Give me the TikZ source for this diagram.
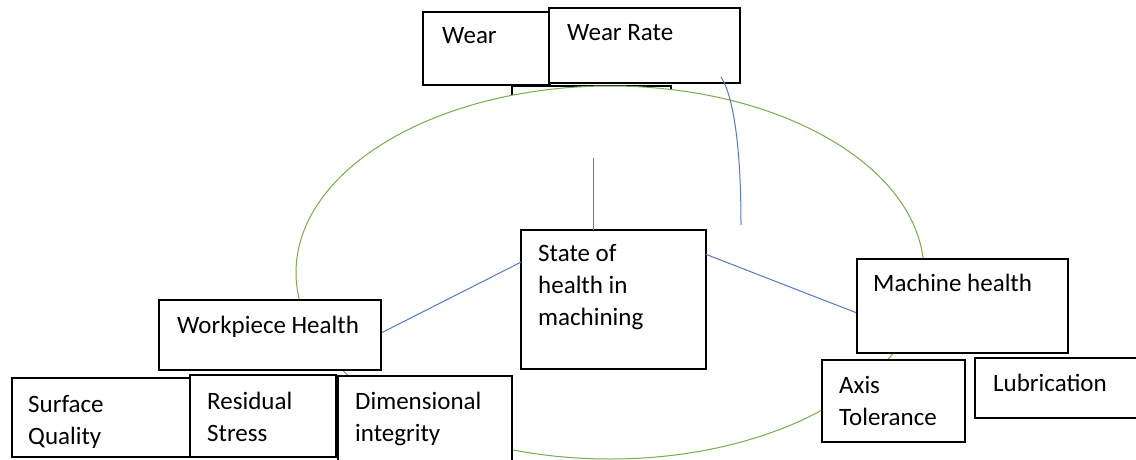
\documentclass[tikz,border=0pt]{standalone}
\usepackage{fontspec}
\setmainfont{Carlito}
\usetikzlibrary{positioning}
\usetikzlibrary{calc}

\definecolor{ringgreen}{RGB}{120,172,76}
\definecolor{linkblue}{RGB}{86,122,192}

\tikzset{
	box/.style={draw,fill=white,line width=1.1pt,anchor=north west,inner sep=0pt,outer sep=0pt},
	txt/.style={anchor=north west,inner sep=0pt,align=left,font=\fontsize{25}{32}\selectfont},
	link/.style={linkblue,line width=1pt}
}

\begin{document}
\begin{tikzpicture}[x=1pt,y=-1pt]
		% frame of the picture
		\clip (0,0) rectangle (1136,459);
		\fill[white] (0,0) rectangle (1136,459);

		% box hidden behind the ring
		\node[box,minimum width=159,minimum height=70] (hidden) at (512,86) {};

		% the ring
		\draw[ringgreen,line width=1pt,fill=white] (610,272.5) ellipse (314pt and 186.5pt);

		% free ends of the connectors
		\coordinate (vtop) at (593,158);
		\coordinate (cstart) at (721,77);
		\coordinate (cend) at (741,225);

		% centre
		\node[box,minimum width=185,minimum height=139] (state) at (521,230) {};
		\node[txt,below right=14pt and 17pt of state.north west] (state-t) {State of\\health in\\machining};

		% connectors from the centre
		\draw[link] (state.north -| vtop) -- (vtop);
		\draw[link] (state.158) -- (381,333) coordinate (wph-in);
		\draw[link] (state.26) -- (857,313) coordinate (mach-in);

		% top boxes
		\node[box,minimum width=127,minimum height=73] (wear) at (423,12) {};
		\node[txt,below right=15pt and 19pt of wear.north west] (wear-t) {Wear};
		\node[box,minimum width=191,minimum height=75] (wrate) at (549,8) {};
		\node[txt,below right=16pt and 18pt of wrate.north west] (wrate-t) {Wear Rate};
		\draw[link] (cstart) .. controls (734,97) and (741,150) .. (cend);

		% workpiece side
		\node[box,minimum width=222,minimum height=70] (wph) at (159,300) {};
		\node[txt,below right=16pt and 18pt of wph.north west] (wph-t) {Workpiece Health};
		\node[box,minimum width=190,minimum height=79] (surf) at (12,378) {};
		\node[txt,below right=17pt and 16pt of surf.north west] (surf-t) {Surface\\Quality};
		\node[box,minimum width=146,minimum height=82] (resid) at (190,375) {};
		\node[txt,below right=17pt and 17pt of resid.north west] (resid-t) {Residual\\Stress};
		\node[box,minimum width=174,minimum height=100] (dimen) at (338,376) {};
		\node[txt,below right=16pt and 17pt of dimen.north west] (dimen-t) {Dimensional\\integrity};

		% machine side
		\node[box,minimum width=211,minimum height=94] (mach) at (857,259) {};
		\node[txt,below right=15pt and 16pt of mach.north west] (mach-t) {Machine health};
		\node[box,minimum width=143,minimum height=82] (axis) at (822,360) {};
		\node[txt,below right=16pt and 17pt of axis.north west] (axis-t) {Axis\\Tolerance};
		\node[box,minimum width=200,minimum height=60] (lubr) at (975,358) {};
		\node[txt,below right=16pt and 18pt of lubr.north west] (lubr-t) {Lubrication};
	\end{tikzpicture}
\end{document}
